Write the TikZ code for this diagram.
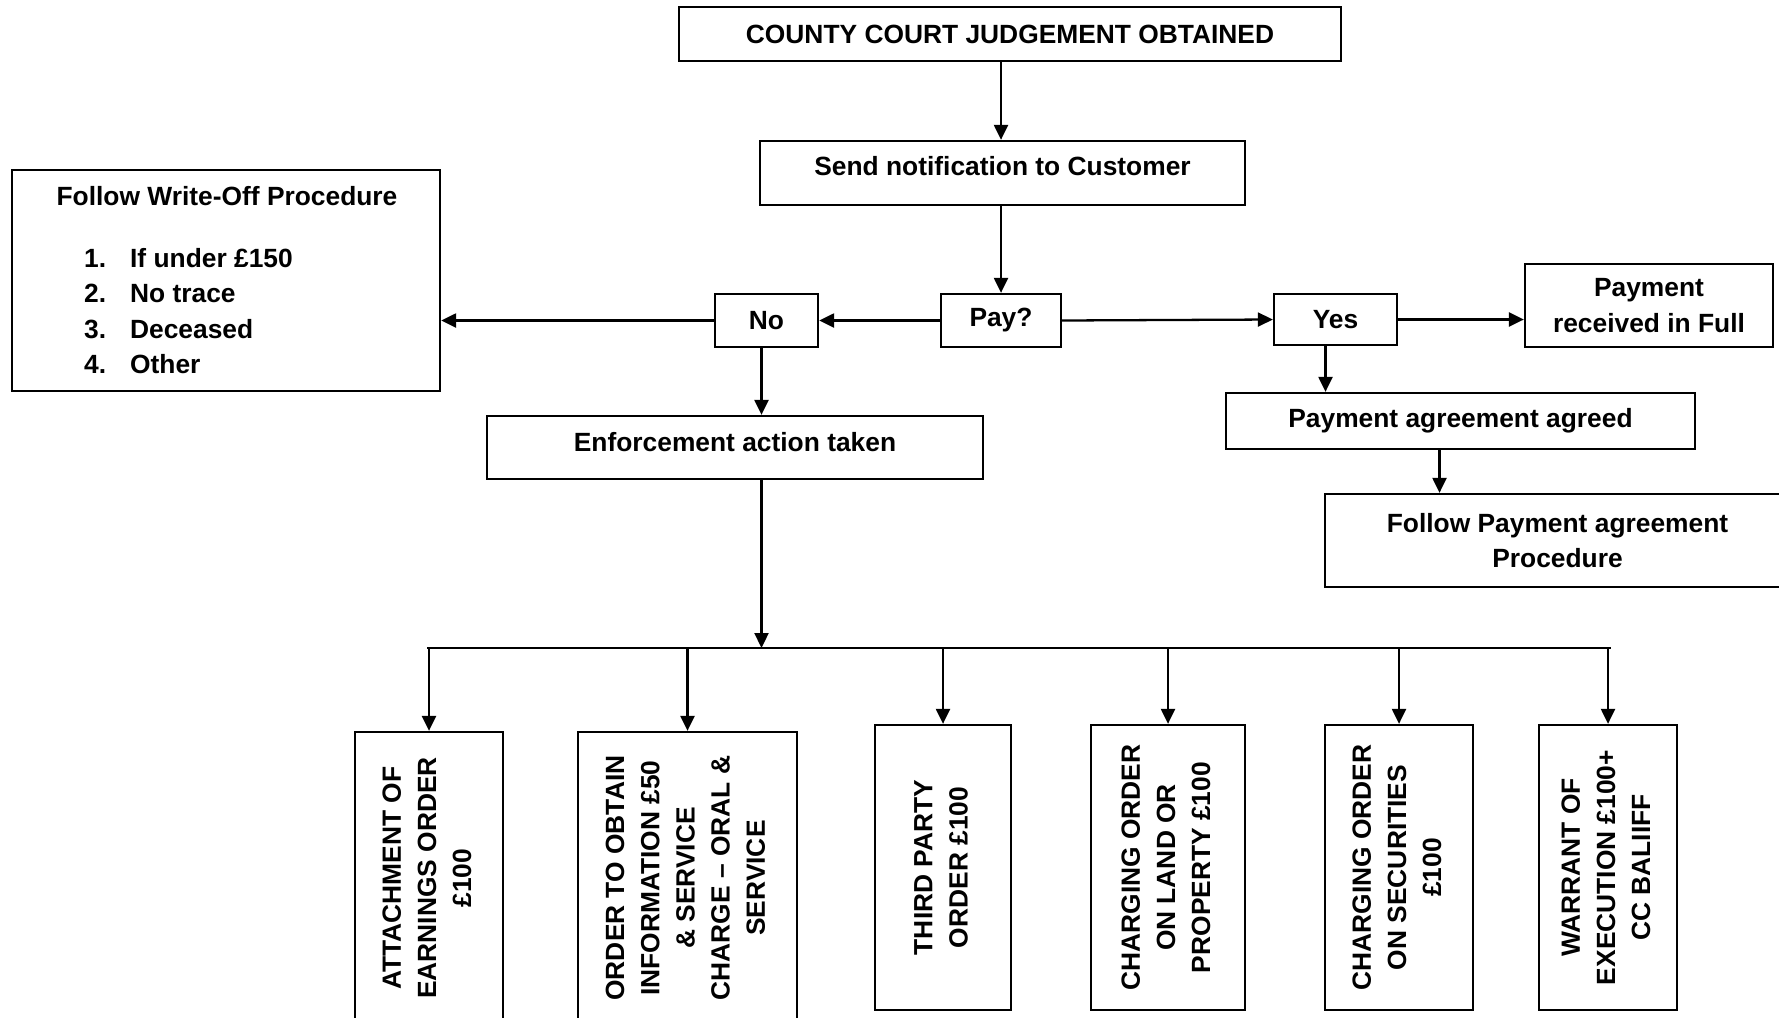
\documentclass[tikz,border=0pt]{standalone}
\usepackage{graphicx}
\usepackage{fontspec}
\setmainfont{Liberation Sans}
\usetikzlibrary{arrows.meta}
\newcommand{\vtext}[1]{\rotatebox{90}{\begin{tabular}{@{}c@{}}#1\end{tabular}}}

\begin{document}
\begin{tikzpicture}[x=0.2mm, y=-0.2mm, line width=1.3pt, >={Triangle[length=3mm, width=2.8mm]},
    box/.style={draw, line width=1.3pt, inner sep=2pt, align=center, font=\fontsize{15}{20}\selectfont\bfseries}]
        \fill[white] (0,0) rectangle (1779,1017);
        \useasboundingbox (0,0) rectangle (1779,1017);
        \clip (0,0) rectangle (1779,1017);

        % Nodes
        \node[box, minimum width=132.4mm, minimum height=10.8mm] (ccj) at (1010,34) {COUNTY COURT JUDGEMENT OBTAINED};
        \node[box, minimum width=97mm, minimum height=12.8mm, text height=11pt, text depth=8.3pt] (notify) at (1002.5,173) {Send notification to Customer};
        \node[box, minimum width=24mm, minimum height=10.6mm] (pay) at (1001,320.5) {Pay?};
        \node[box, minimum width=20.6mm, minimum height=10.6mm] (no) at (766.5,320.5) {No};
        \node[box, minimum width=24.6mm, minimum height=10.2mm] (yes) at (1335.5,319.5) {Yes};
        \node[box, minimum width=49.6mm, minimum height=16.6mm] (full) at (1649,305.5) {Payment\\received in Full};
        \node[box, minimum width=85.6mm, minimum height=44.2mm] (wo) at (226,280.5) {};
        \node[box, minimum width=99.2mm, minimum height=12.6mm, text height=11pt, text depth=6.7pt] (enf) at (735,447.5) {Enforcement action taken};
        \node[box, minimum width=93.8mm, minimum height=11.2mm] (agr) at (1460.5,421) {Payment agreement agreed};
        \node[box, minimum width=93mm, minimum height=18.6mm] (fpa) at (1557.5,540.5) {Follow Payment agreement\\Procedure};

        % Write-off text
        \node[box, draw=none] (wotitle) at (227,196) {Follow Write-Off Procedure};
        \node[box, draw=none, inner sep=0pt, anchor=west, align=left] (wolist) at (83,311)
            {\makebox[9.2mm][l]{1.}If under £150\\\makebox[9.2mm][l]{2.}No trace\\\makebox[9.2mm][l]{3.}Deceased\\\makebox[9.2mm][l]{4.}Other};

        % Enforcement orders
        \node[box, minimum width=29.6mm, minimum height=58.4mm] (b1) at (429,878) {\vtext{ATTACHMENT OF\\EARNINGS ORDER\\£100}};
        \node[box, minimum width=43.8mm, minimum height=58.4mm] (b2) at (687.5,878) {\vtext{ORDER TO OBTAIN\\INFORMATION £50\\\& SERVICE\\CHARGE – ORAL \&\\SERVICE}};
        \node[box, minimum width=27.2mm, minimum height=57mm] (b3) at (943,867.5) {\vtext{THIRD PARTY\\ORDER £100}};
        \node[box, minimum width=30.8mm, minimum height=57mm] (b4) at (1168,867.5) {\vtext{CHARGING ORDER\\ON LAND OR\\PROPERTY £100}};
        \node[box, minimum width=29.6mm, minimum height=57mm] (b5) at (1399,867.5) {\vtext{CHARGING ORDER\\ON SECURITIES\\£100}};
        \node[box, minimum width=27.6mm, minimum height=57mm] (b6) at (1608,867.5) {\vtext{WARRANT OF\\EXECUTION £100+\\CC BALIIFF}};
        \coordinate (busL) at (427,648);
        \coordinate (busR) at (1611,648);

        % Edges
        \draw[->] (ccj.south -| pay) -- (notify.north -| pay);
        \draw[->] (notify.south -| pay) -- (pay.north);
        \draw[->] (pay.west) -- (no.east);
        \draw[->] (pay.east) -- (yes.west);
        \draw[->] (yes.east) -- (full.west |- yes);
        \draw[->] (no.west) -- (wo.east |- no);
        \draw[->] ([xshift=-1mm]no.south) -- ([xshift=-1mm]no.south |- enf.north);
        \draw[->] ([xshift=-1mm]enf.south -| no) -- ([xshift=-1mm]no |- busL);
        \draw[->] ([xshift=-2mm]yes.south) -- ([xshift=-2mm]yes.south |- agr.north);
        \draw[->] ([xshift=-4.2mm]agr.south) -- ([xshift=-4.2mm]agr.south |- fpa.north);
        \draw (busL) -- (busR);
        \foreach \n in {b1,b2,b3,b4,b5,b6}
            \draw[->] (\n.north |- busL) -- (\n.north);
    \end{tikzpicture}
\end{document}
